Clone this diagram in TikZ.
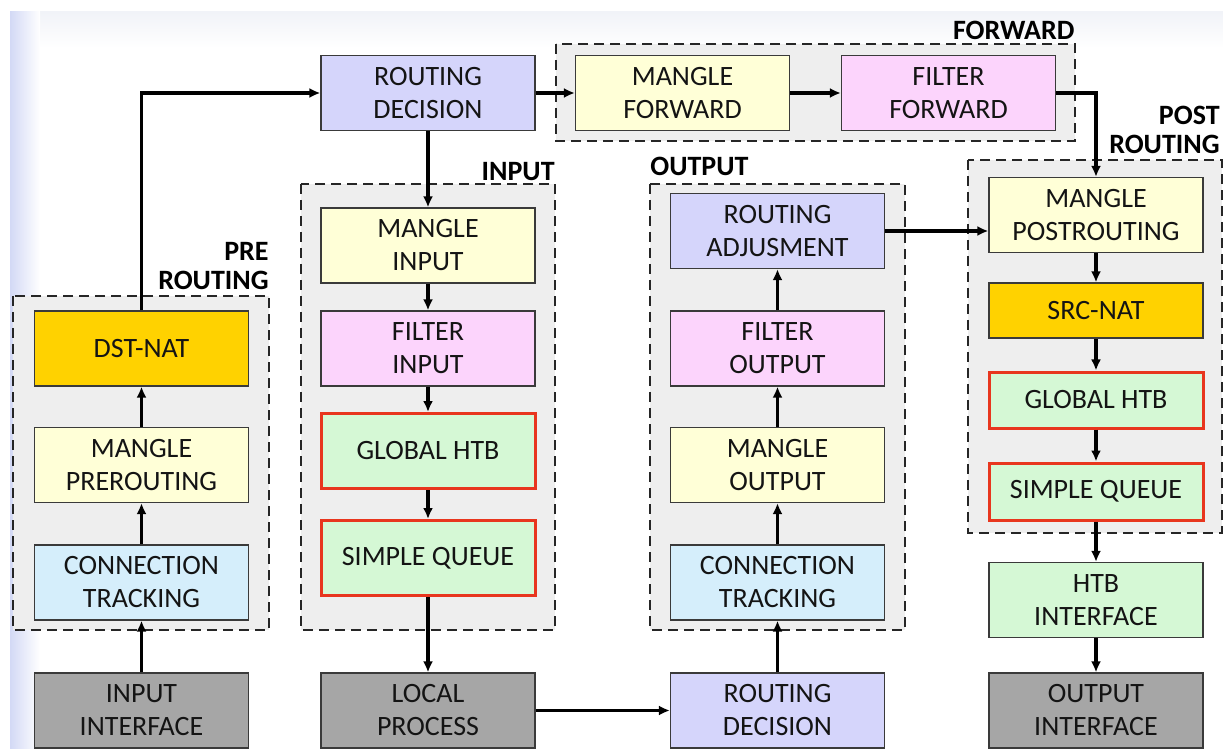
\documentclass[tikz,border=0pt]{standalone}
\usepackage{fontspec}
\setmainfont{Carlito}
\usepackage{xcolor}
\usepackage{tikz}
\usetikzlibrary{arrows.meta}

\definecolor{routecol}{HTML}{D5D5FB}
\definecolor{manglecol}{HTML}{FFFFD7}
\definecolor{filtercol}{HTML}{FCD4FC}
\definecolor{natcol}{HTML}{FFD200}
\definecolor{htbcol}{HTML}{D5F8D5}
\definecolor{conncol}{HTML}{D5EEFB}
\definecolor{ifacecol}{HTML}{A6A6A6}
\definecolor{groupfill}{HTML}{EEEEEE}
\definecolor{redline}{HTML}{E8361E}
\definecolor{boxline}{HTML}{3A3A3A}
\definecolor{bgtop}{HTML}{F1F3F8}
\definecolor{bgleft}{HTML}{D3D9F5}

\tikzset{
	box/.style={draw=boxline, line width=0.6pt, minimum width=107pt, minimum height=37.5pt,
		inner sep=0pt, align=center, text=black!92, font=\fontsize{14}{16.5}\selectfont},
	qbox/.style={box, draw=redline, line width=1.5pt, fill=htbcol},
	group/.style={draw=black!85, fill=groupfill, dash pattern=on 5pt off 3pt, line width=1.3pt},
	grouplabel/.style={font=\fontsize{14}{14.5}\selectfont\bfseries, inner sep=0pt, align=right},
	flow/.style={-{Latex[length=5.5pt,width=5pt]}, line width=1.6pt},
}

\begin{document}
\begin{tikzpicture}[x=0.5pt, y=-0.5pt]
		\useasboundingbox (0,0) rectangle (1223,749);
		% slide background
		\fill[white] (0,0) rectangle (1223,749);
		\shade[top color=bgtop, bottom color=white] (10,12) rectangle (1223,48);
		\shade[left color=bgleft, right color=white] (10,12) rectangle (40,749);
		
		% chain groups
		\draw[group] (556,44) rectangle (1075,141);
		\draw[group] (13,296) rectangle (269,630);
		\draw[group] (301,184) rectangle (555,630);
		\draw[group] (650,184) rectangle (905,630);
		\draw[group] (968,160) rectangle (1222,533);
		
		\node[grouplabel, anchor=base east] (lforward) at (1075,40) {FORWARD};
		\node[grouplabel, anchor=base east] (linput) at (555,181) {INPUT};
		\node[grouplabel, anchor=base west] (loutput) at (650,176) {OUTPUT};
		\node[grouplabel, anchor=south east] (lpre) at (269,290) {PRE\\ROUTING};
		\node[grouplabel, anchor=south east] (lpost) at (1220,154) {POST\\ROUTING};
		
		% top row
		\node[box, fill=routecol] (rdtop) at (428,93) {ROUTING\\DECISION};
		\node[box, fill=manglecol] (mfwd) at (682.5,93) {MANGLE\\FORWARD};
		\node[box, fill=filtercol] (ffwd) at (948.5,93) {FILTER\\FORWARD};
		
		% prerouting
		\node[box, fill=natcol] (dstnat) at (141.5,348.5) {DST-NAT};
		\node[box, fill=manglecol] (mpre) at (141.5,465) {MANGLE\\PREROUTING};
		\node[box, fill=conncol] (ctin) at (141.5,582.5) {CONNECTION\\TRACKING};
		\node[box, fill=ifacecol] (inint) at (141.5,710.5) {INPUT\\INTERFACE};
		
		% input
		\node[box, fill=manglecol] (minput) at (428,245.5) {MANGLE\\INPUT};
		\node[box, fill=filtercol] (finput) at (428,348.5) {FILTER\\INPUT};
		\node[qbox] (ghtbin) at (428,451) {GLOBAL HTB};
		\node[qbox] (sqin) at (428,558) {SIMPLE QUEUE};
		\node[box, fill=ifacecol] (local) at (428,710.5) {LOCAL\\PROCESS};
		
		% output
		\node[box, fill=routecol] (radj) at (777.5,231) {ROUTING\\ADJUSMENT};
		\node[box, fill=filtercol] (fout) at (777.5,348.5) {FILTER\\OUTPUT};
		\node[box, fill=manglecol] (mout) at (777.5,465) {MANGLE\\OUTPUT};
		\node[box, fill=conncol] (ctout) at (777.5,582.5) {CONNECTION\\TRACKING};
		\node[box, fill=routecol] (rdbot) at (777.5,710.5) {ROUTING\\DECISION};
		
		% postrouting
		\node[box, fill=manglecol] (mpost) at (1096,215) {MANGLE\\POSTROUTING};
		\node[box, fill=natcol, minimum height=27.5pt] (srcnat) at (1096,310.5) {SRC-NAT};
		\node[qbox, minimum height=28pt] (ghtbpost) at (1096,400) {GLOBAL HTB};
		\node[qbox, minimum height=28.5pt] (sqpost) at (1096,491.5) {SIMPLE QUEUE};
		\node[box, fill=htbcol] (htbint) at (1096,600) {HTB\\INTERFACE};
		\node[box, fill=ifacecol] (outint) at (1096,710.5) {OUTPUT\\INTERFACE};
		
		% packet flow
		\draw[flow] (inint) -- (ctin);
		\draw[flow] (ctin) -- (mpre);
		\draw[flow] (mpre) -- (dstnat);
		\draw[flow] (dstnat) |- (rdtop);
		\draw[flow] (rdtop) -- (mfwd);
		\draw[flow] (mfwd) -- (ffwd);
		\draw[flow] (ffwd) -| (mpost);
		
		\draw[flow] (rdtop) -- (minput);
		\draw[flow] (minput) -- (finput);
		\draw[flow] (finput) -- (ghtbin);
		\draw[flow] (ghtbin) -- (sqin);
		\draw[flow] (sqin) -- (local);
		\draw[flow] (local) -- (rdbot);
		
		\draw[flow] (rdbot) -- (ctout);
		\draw[flow] (ctout) -- (mout);
		\draw[flow] (mout) -- (fout);
		\draw[flow] (fout) -- (radj);
		\draw[flow] (radj.east) -- (radj.east -| mpost.west);
		
		\draw[flow] (mpost) -- (srcnat);
		\draw[flow] (srcnat) -- (ghtbpost);
		\draw[flow] (ghtbpost) -- (sqpost);
		\draw[flow] (sqpost) -- (htbint);
		\draw[flow] (htbint) -- (outint);
	\end{tikzpicture}
\end{document}
